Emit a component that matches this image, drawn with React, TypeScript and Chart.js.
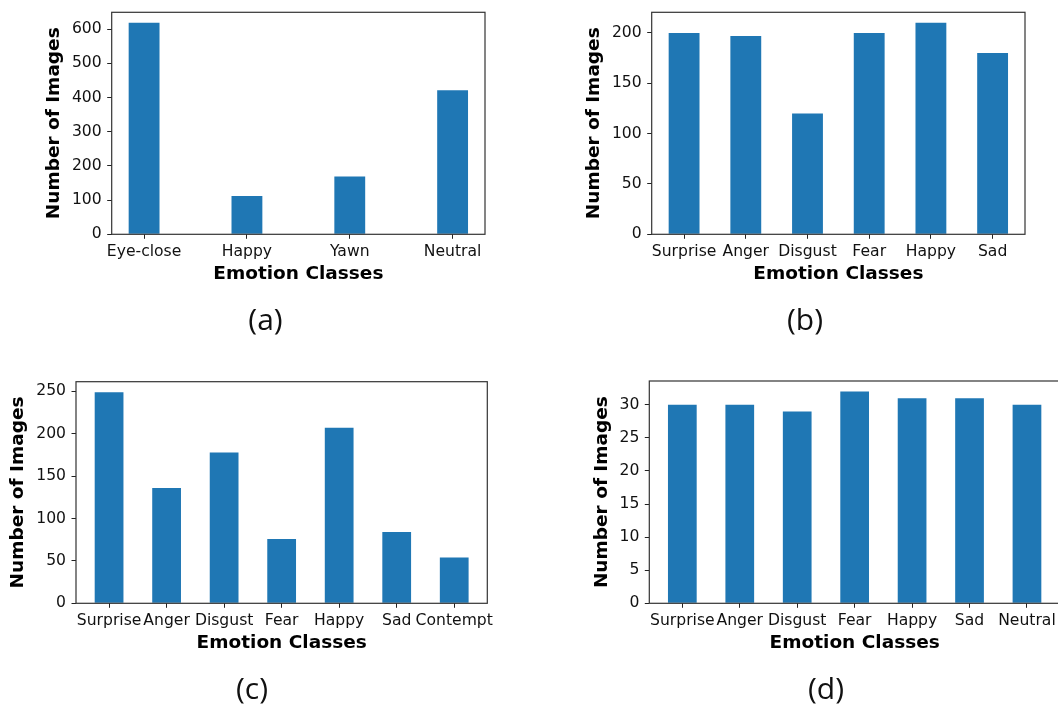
import React, { useEffect, useRef } from 'react';
import { Chart, registerables } from 'chart.js';

Chart.register(...registerables);

// ---------- data ----------
const labelsA = ['Eye-close', 'Happy', 'Yawn', 'Neutral'];
const valuesA = [618, 112, 169, 421];
const yTicksA = [0, 100, 200, 300, 400, 500, 600];

const labelsB = ['Surprise', 'Anger', 'Disgust', 'Fear', 'Happy', 'Sad'];
const valuesB = [200, 197, 120, 200, 210, 180];
const yTicksB = [0, 50, 100, 150, 200];

const labelsC = ['Surprise', 'Anger', 'Disgust', 'Fear', 'Happy', 'Sad', 'Contempt'];
const valuesC = [249, 136, 178, 76, 207, 84, 54];
const yTicksC = [0, 50, 100, 150, 200, 250];

const labelsD = ['Surprise', 'Anger', 'Disgust', 'Fear', 'Happy', 'Sad', 'Neutral'];
const valuesD = [30, 30, 29, 32, 31, 31, 30];
const yTicksD = [0, 5, 10, 15, 20, 25, 30];

const xTitle = 'Emotion Classes';
const yTitle = 'Number of Images';
const captions = ['(a)', '(b)', '(c)', '(d)'];

// ---------- style ----------
const FONT = '"DejaVu Sans", Verdana, sans-serif';
const TICK_SIZE = 15.6;
const LABEL_SIZE = 18.5;
const BAR_COLOR = '#1f77b4';
const TEXT_COLOR = '#111111';
const TICK_LEN = 4.5;

type Box = { left: number; top: number; width: number; height: number };
type Plot = { l: number; t: number; r: number; b: number };

interface PanelProps {
  labels: string[];
  values: number[];
  yTicks: number[];
  barWidth: number;
  canvas: Box;
  plot: Plot;
  yTitleOff: number;
}

function Panel({ labels, values, yTicks, barWidth, canvas, plot, yTitleOff }: PanelProps) {
  const ref = useRef<HTMLCanvasElement | null>(null);

  useEffect(() => {
    if (!ref.current) return;
    const n = labels.length;
    const lo = -barWidth / 2;
    const hi = n - 1 + barWidth / 2;
    const m = 0.05 * (hi - lo);
    const yMax = Math.max(...values) * 1.05;

    const canvasRight = canvas.left + canvas.width;
    const canvasBottom = canvas.top + canvas.height;
    const yAxisW = plot.l - canvas.left;
    const xAxisH = canvasBottom - plot.b;
    const titleLH = LABEL_SIZE * 1.2;
    const yTitleMid = plot.l - yTitleOff - 1.8;
    const yTitlePadTop = yTitleMid - canvas.left - titleLH / 2;
    const xTitleMid = plot.b + 39.4;
    const xTitlePadBottom = canvasBottom - titleLH / 2 - xTitleMid;

    const framePlugin = {
      id: 'frame',
      afterDatasetsDraw(chart: any) {
        const { ctx, chartArea: a } = chart;
        ctx.save();
        ctx.strokeStyle = '#333333';
        ctx.lineWidth = 1.2;
        ctx.strokeRect(a.left, a.top, a.right - a.left, a.bottom - a.top);
        ctx.restore();
      },
    };

    const chart = new Chart(ref.current, {
      type: 'bar',
      data: {
        datasets: [
          {
            data: values.map((v, i) => ({ x: i, y: v })),
            backgroundColor: BAR_COLOR,
            borderWidth: 0,
            categoryPercentage: 1,
            barPercentage: barWidth,
          } as any,
        ],
      },
      options: {
        animation: false,
        responsive: false,
        events: [],
        layout: {
          padding: { left: 0, top: plot.t - canvas.top, right: canvasRight - plot.r, bottom: 0 },
        },
        plugins: { legend: { display: false }, tooltip: { enabled: false } },
        scales: {
          x: {
            type: 'linear',
            offset: false,
            bounds: 'data',
            min: lo - m,
            max: hi + m,
            afterBuildTicks: (ax: any) => {
              ax.ticks = labels.map((_, i) => ({ value: i }));
            },
            afterFit: (ax: any) => {
              ax.height = xAxisH;
            },
            ticks: {
              autoSkip: false,
              maxRotation: 0,
              minRotation: 0,
              padding: 3.4,
              color: TEXT_COLOR,
              font: { family: FONT, size: TICK_SIZE },
              callback: (v: any) => labels[Math.round(Number(v))] ?? '',
            },
            grid: {
              display: true,
              offset: false,
              drawOnChartArea: false,
              drawTicks: true,
              tickLength: TICK_LEN,
              tickColor: '#222222',
              tickWidth: 1,
            },
            border: { display: false },
            title: {
              display: true,
              text: xTitle,
              color: '#000000',
              font: { family: FONT, size: LABEL_SIZE, weight: 'bold' },
              padding: { top: 0, bottom: xTitlePadBottom },
            },
          } as any,
          y: {
            type: 'linear',
            bounds: 'data',
            min: 0,
            max: yMax,
            afterBuildTicks: (ax: any) => {
              ax.ticks = yTicks.map((v) => ({ value: v }));
            },
            afterFit: (ax: any) => {
              ax.width = yAxisW;
            },
            ticks: {
              padding: 5.5,
              color: TEXT_COLOR,
              font: { family: FONT, size: TICK_SIZE },
              callback: (v: any) => String(v),
            },
            grid: {
              display: true,
              drawOnChartArea: false,
              drawTicks: true,
              tickLength: TICK_LEN,
              tickColor: '#222222',
              tickWidth: 1,
            },
            border: { display: false },
            title: {
              display: true,
              text: yTitle,
              color: '#000000',
              font: { family: FONT, size: LABEL_SIZE, weight: 'bold' },
              padding: { top: yTitlePadTop, bottom: 0 },
            },
          } as any,
        },
      },
      plugins: [framePlugin],
    });
    return () => chart.destroy();
  }, []);

  return (
    <canvas
      ref={ref}
      width={canvas.width}
      height={canvas.height}
      style={{ position: 'absolute', left: canvas.left, top: canvas.top, width: canvas.width, height: canvas.height }}
    />
  );
}

function Caption({ text, cx, top }: { text: string; cx: number; top: number }) {
  return (
    <div
      style={{
        position: 'absolute',
        left: cx - 50,
        top,
        width: 100,
        textAlign: 'center',
        fontFamily: '"Open Sans", Lato, sans-serif',
        fontSize: 30,
        lineHeight: '40px',
        color: '#111111',
      }}
    >
      {text}
    </div>
  );
}

export default function App() {
  return (
    <div
      style={{
        position: 'absolute',
        left: 0,
        top: 0,
        width: 1058,
        height: 709,
        overflow: 'hidden',
        background: '#ffffff',
      }}
    >
      <Panel
        labels={labelsA}
        values={valuesA}
        yTicks={yTicksA}
        barWidth={0.3}
        canvas={{ left: 0, top: -10, width: 500, height: 320 }}
        plot={{ l: 111.7, t: 12.3, r: 485, b: 234.3 }}
        yTitleOff={55.7}
      />
      <Panel
        labels={labelsB}
        values={valuesB}
        yTicks={yTicksB}
        barWidth={0.5}
        canvas={{ left: 540, top: -10, width: 518, height: 320 }}
        plot={{ l: 651.7, t: 12.3, r: 1025, b: 234.3 }}
        yTitleOff={55.7}
      />
      <Panel
        labels={labelsC}
        values={valuesC}
        yTicks={yTicksC}
        barWidth={0.5}
        canvas={{ left: 0, top: 355, width: 510, height: 320 }}
        plot={{ l: 76, t: 381.7, r: 487.3, b: 603.3 }}
        yTitleOff={55.7}
      />
      <Panel
        labels={labelsD}
        values={valuesD}
        yTicks={yTicksD}
        barWidth={0.5}
        canvas={{ left: 540, top: 355, width: 560, height: 320 }}
        plot={{ l: 649.3, t: 381, r: 1060, b: 603.3 }}
        yTitleOff={45.5}
      />
      <Caption text={captions[0]} cx={265.5} top={299} />
      <Caption text={captions[1]} cx={805} top={299} />
      <Caption text={captions[2]} cx={252} top={668} />
      <Caption text={captions[3]} cx={826} top={668} />
    </div>
  );
}
